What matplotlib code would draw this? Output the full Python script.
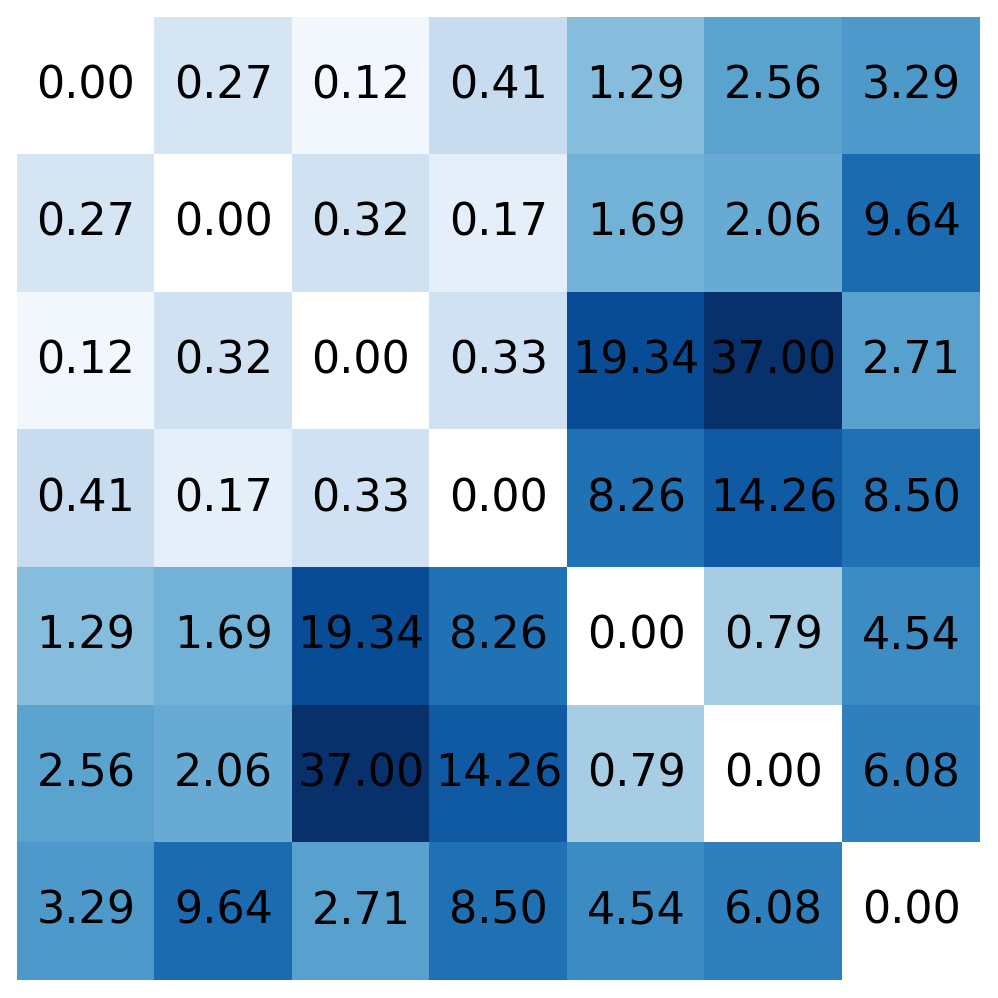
import numpy as np
import matplotlib
matplotlib.use("Agg")
import matplotlib.pyplot as plt
from matplotlib.colors import LogNorm

values = [
    [0.00, 0.27, 0.12, 0.41, 1.29, 2.56, 3.29],
    [0.27, 0.00, 0.32, 0.17, 1.69, 2.06, 9.64],
    [0.12, 0.32, 0.00, 0.33, 19.34, 37.00, 2.71],
    [0.41, 0.17, 0.33, 0.00, 8.26, 14.26, 8.50],
    [1.29, 1.69, 19.34, 8.26, 0.00, 0.79, 4.54],
    [2.56, 2.06, 37.00, 14.26, 0.79, 0.00, 6.08],
    [3.29, 9.64, 2.71, 8.50, 4.54, 6.08, 0.00],
]

data = np.array(values)
masked = np.ma.masked_where(data <= 0, data)

fig = plt.figure(figsize=(9.98, 9.98), dpi=100)
ax = fig.add_axes([17 / 998, 18 / 998, 963 / 998, 963 / 998])
ax.imshow(masked, cmap="Blues", norm=LogNorm(vmin=0.1, vmax=37.0), aspect="auto")
for i in range(data.shape[0]):
    for j in range(data.shape[1]):
        ax.text(j, i, "%.2f" % data[i, j], ha="center", va="center",
                fontsize=32, color="black")
ax.axis("off")
fig.savefig("out.png", dpi=100)
